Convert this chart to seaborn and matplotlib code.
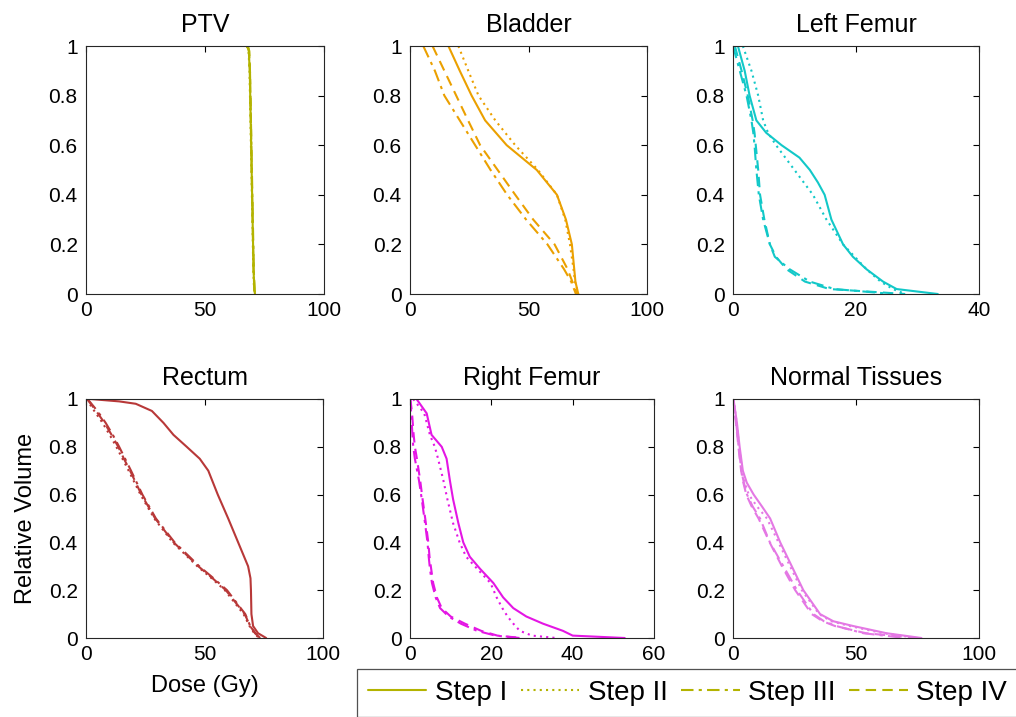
import matplotlib
matplotlib.use("Agg")
import matplotlib.pyplot as plt
import numpy as np
import pandas as pd
import seaborn as sns
from matplotlib.lines import Line2D
from matplotlib.ticker import FormatStrFormatter

ptv_vol = [1.0, 0.98, 0.9, 0.7, 0.5, 0.3, 0.1, 0.02, 0.0]
ptv_s1 = [67.8, 68.4, 68.8, 69.2, 69.6, 70.0, 70.4, 70.7, 71.0]
ptv_s2 = [67.5, 68.3, 68.7, 69.1, 69.5, 69.9, 70.3, 70.6, 70.9]
ptv_s3 = [67.9, 68.5, 68.9, 69.3, 69.7, 70.1, 70.5, 70.8, 71.1]
ptv_s4 = [68.0, 68.6, 68.9, 69.3, 69.6, 70.0, 70.4, 70.8, 71.0]

bladder_vol = [1.0, 0.9, 0.8, 0.7, 0.6, 0.5, 0.4, 0.3, 0.2, 0.1, 0.05, 0.0]
bladder_s1 = [16.2, 21.0, 26.0, 31.7, 40.8, 53.5, 62.0, 65.8, 68.3, 69.3, 69.8, 71.0]
bladder_s2 = [20.4, 24.6, 28.9, 36.0, 44.4, 54.0, 62.0, 65.5, 67.5, 69.0, 69.6, 71.0]
bladder_s3 = [5.6, 10.5, 14.5, 21.0, 27.5, 34.0, 41.0, 49.0, 58.0, 65.0, 68.0, 70.0]
bladder_s4 = [9.5, 14.5, 19.5, 24.5, 29.6, 37.0, 44.4, 52.0, 61.0, 66.5, 68.5, 70.5]

lfemur_vol = [1.0, 0.9, 0.8, 0.7, 0.65, 0.6, 0.55, 0.5, 0.45, 0.4, 0.3, 0.2, 0.15, 0.1, 0.05, 0.02, 0.0]
lfemur_s1 = [0.8, 1.9, 2.7, 3.8, 5.4, 7.9, 10.8, 12.5, 13.8, 14.9, 16.0, 17.9, 19.5, 21.7, 24.4, 26.6, 33.3]
lfemur_s2 = [1.6, 3.0, 4.1, 4.9, 5.7, 7.0, 8.5, 10.0, 11.5, 13.0, 15.2, 17.9, 19.8, 21.7, 24.0, 26.0, 28.0]
lfemur_s3 = [0.0, 1.1, 2.2, 3.0, 3.3, 3.5, 3.65, 3.8, 4.0, 4.2, 4.9, 6.0, 6.8, 9.2, 12.5, 16.5, 26.0]
lfemur_s4 = [0.3, 1.4, 2.4, 3.2, 3.5, 3.7, 3.9, 4.1, 4.25, 4.4, 5.1, 6.0, 7.0, 8.7, 11.7, 15.7, 28.0]

rectum_vol = [1.0, 0.99, 0.98, 0.95, 0.9, 0.85, 0.8, 0.75, 0.7, 0.65, 0.6, 0.5, 0.4, 0.3, 0.25, 0.2, 0.1, 0.05, 0.02, 0.0]
rectum_s1 = [1.8, 14.0, 21.0, 27.8, 32.7, 36.9, 42.5, 48.0, 51.6, 53.6, 55.6, 60.0, 64.2, 68.4, 69.4, 69.6, 69.8, 70.5, 72.6, 76.0]
rectum_s2 = [0.5, 0.9, 1.5, 3.5, 7.0, 10.0, 12.8, 15.4, 18.0, 20.5, 23.0, 28.8, 36.6, 47.0, 53.0, 58.6, 66.5, 69.0, 71.0, 73.0]
rectum_s3 = [0.8, 1.5, 2.3, 4.8, 8.3, 11.3, 14.0, 16.5, 19.0, 21.4, 23.8, 29.5, 37.4, 47.8, 53.8, 59.5, 67.2, 69.3, 71.3, 73.5]
rectum_s4 = [0.6, 1.2, 2.0, 4.3, 7.8, 10.8, 13.6, 16.0, 18.6, 21.0, 23.4, 29.2, 37.0, 47.4, 53.4, 59.0, 67.0, 69.2, 71.5, 74.0]

rfemur_vol = [1.0, 0.94, 0.85, 0.8, 0.75, 0.66, 0.58, 0.48, 0.4, 0.34, 0.29, 0.23, 0.17, 0.125, 0.09, 0.06, 0.03, 0.01, 0.0]
rfemur_s1 = [1.6, 4.1, 5.3, 7.8, 9.0, 9.8, 10.6, 11.9, 13.1, 14.7, 17.2, 20.5, 22.9, 25.4, 28.6, 32.7, 37.6, 40.0, 52.8]
rfemur_s2 = [0.8, 3.5, 4.9, 6.1, 6.9, 8.2, 9.2, 10.6, 12.2, 13.8, 16.5, 19.8, 21.3, 22.7, 24.0, 25.4, 27.0, 30.0, 36.0]
rfemur_s3 = [0.0, 0.3, 0.6, 0.8, 1.2, 2.2, 2.9, 3.7, 4.3, 4.6, 4.9, 5.4, 6.3, 7.4, 9.5, 12.5, 16.5, 21.0, 27.0]
rfemur_s4 = [0.1, 0.5, 0.9, 1.2, 1.7, 2.5, 3.1, 3.9, 4.5, 4.8, 5.2, 5.7, 6.6, 7.8, 10.0, 13.5, 17.5, 21.5, 27.5]

normal_vol = [1.0, 0.9, 0.8, 0.7, 0.65, 0.6, 0.55, 0.5, 0.4, 0.3, 0.2, 0.1, 0.07, 0.05, 0.02, 0.0]
normal_s1 = [0.2, 1.6, 2.7, 4.0, 5.6, 8.4, 11.8, 15.1, 19.2, 23.9, 28.6, 35.4, 40.8, 48.9, 62.4, 76.6]
normal_s2 = [0.2, 1.5, 2.5, 3.7, 4.8, 6.4, 9.8, 13.8, 18.5, 23.2, 28.0, 35.0, 40.0, 47.5, 61.0, 75.0]
normal_s3 = [0.1, 1.3, 2.3, 3.4, 4.4, 5.7, 8.0, 11.0, 15.0, 20.5, 26.0, 32.7, 37.0, 42.0, 53.0, 70.0]
normal_s4 = [0.1, 1.2, 2.2, 3.3, 4.2, 5.4, 7.6, 10.4, 14.9, 19.9, 25.3, 32.0, 36.5, 41.5, 54.0, 74.6]

step_names = ["Step I", "Step II", "Step III", "Step IV"]

organs = [
    ("PTV", ptv_vol, [ptv_s1, ptv_s2, ptv_s3, ptv_s4], "#b3b300", 100, [0, 50, 100]),
    ("Bladder", bladder_vol, [bladder_s1, bladder_s2, bladder_s3, bladder_s4], "#eba000", 100, [0, 50, 100]),
    ("Left Femur", lfemur_vol, [lfemur_s1, lfemur_s2, lfemur_s3, lfemur_s4], "#12c8c8", 40, [0, 20, 40]),
    ("Rectum", rectum_vol, [rectum_s1, rectum_s2, rectum_s3, rectum_s4], "#b83838", 100, [0, 50, 100]),
    ("Right Femur", rfemur_vol, [rfemur_s1, rfemur_s2, rfemur_s3, rfemur_s4], "#e416e4", 60, [0, 20, 40, 60]),
    ("Normal Tissues", normal_vol, [normal_s1, normal_s2, normal_s3, normal_s4], "#e478e4", 100, [0, 50, 100]),
]

# Estilo de línea tipo MATLAB
step_dashes = {
    "Step I": "",
    "Step II": (1, 2),
    "Step III": (6, 2.5, 1.5, 2.5),
    "Step IV": (5, 3),
}

sns.set_style("white")
plt.rcParams["font.family"] = ["Liberation Sans", "DejaVu Sans"]
plt.rcParams.update({
    "text.color": "black",
    "axes.labelcolor": "black",
    "xtick.color": "black",
    "ytick.color": "black",
})

W, H = 1016, 717
fig = plt.figure(figsize=(W / 100, H / 100), dpi=100)

# Posiciones de los ejes en píxeles (izq, der, arriba, abajo)
boxes = [
    (86, 324, 46, 294),
    (410, 647, 46, 294),
    (733, 979, 46, 294),
    (86, 323, 399, 638),
    (410, 654, 399, 638),
    (733, 979, 399, 638),
]

for (name, vol, doses, color, xmax, xticks), (l, r, t, b) in zip(organs, boxes):
    ax = fig.add_axes([l / W, 1 - b / H, (r - l) / W, (b - t) / H])
    rows = []
    for step, dose in zip(step_names, doses):
        for d, v in zip(dose, vol):
            rows.append({"dose": d, "volume": v, "step": step})
    df = pd.DataFrame(rows)
    sns.lineplot(data=df, x="dose", y="volume", style="step", dashes=step_dashes,
                 style_order=step_names, color=color, sort=False, estimator=None,
                 linewidth=1.5, legend=False, ax=ax)
    ax.set_xlim(0, xmax)
    ax.set_ylim(0, 1)
    ax.set_xticks(xticks)
    ax.set_yticks(np.arange(0, 1.01, 0.2))
    ax.yaxis.set_major_formatter(FormatStrFormatter("%g"))
    ax.tick_params(direction="in", length=4, width=0.8, labelsize=15,
                   top=True, right=True)
    ax.tick_params(axis="x", pad=5)
    ax.tick_params(axis="y", pad=6)
    for sp in ax.spines.values():
        sp.set_color("#262626")
        sp.set_linewidth(0.8)
    ax.set_title(name, fontsize=18, pad=10)
    ax.set_xlabel("")
    ax.set_ylabel("")
    if name == "Rectum":
        ax.set_xlabel("Dose (Gy)", fontsize=17, labelpad=8)
        ax.set_ylabel("Relative Volume", fontsize=17, labelpad=8)

legend_color = organs[0][3]
handles = [Line2D([], [], color=legend_color, linewidth=1.5,
                  dashes=step_dashes[s] if step_dashes[s] else (None, None))
           for s in step_names]
leg = fig.legend(handles, step_names, loc="lower left", bbox_to_anchor=(357 / W, 0.0),
                 ncol=4, fontsize=20, frameon=True, fancybox=False,
                 handlelength=2.1, handletextpad=0.3, columnspacing=0.5,
                 borderpad=0.4, borderaxespad=0.0)
leg.get_frame().set_edgecolor("#262626")
leg.get_frame().set_linewidth(0.9)

fig.savefig("out.png", dpi=100)
